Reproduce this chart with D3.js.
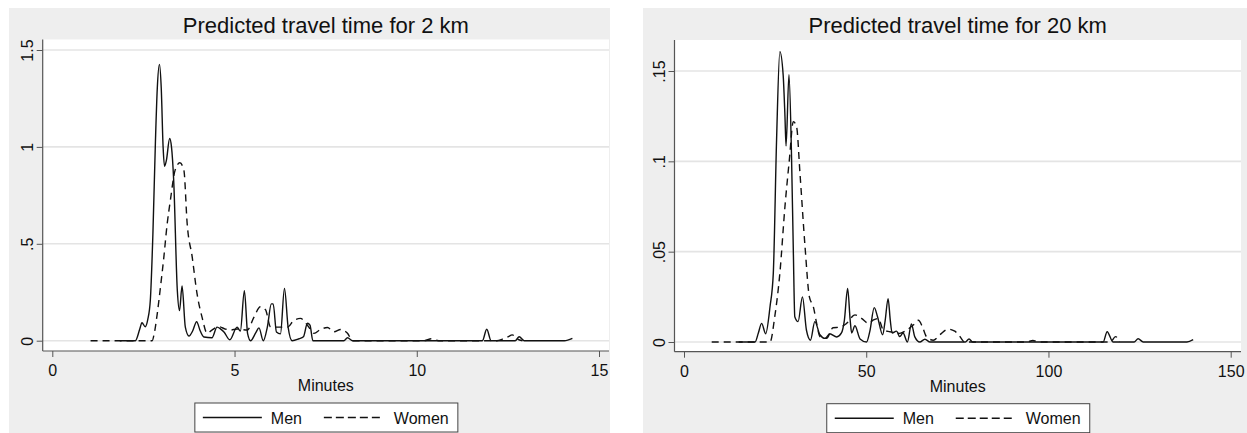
<!DOCTYPE html>
<html>
<head>
<meta charset="utf-8">
<script src="https://cdn.jsdelivr.net/npm/d3@7"></script>
<style>
  body { margin: 0; background: #ffffff; }
  svg { display: block; font-family: "Liberation Sans", Arial, sans-serif; }
</style>
</head>
<body>
<svg width="1247" height="433"></svg>
<script>
// kernel density of predicted minutes
var menMinutes2 = [1.85, 2.28, 2.40, 2.46, 2.55, 2.62, 2.69, 2.76, 2.83, 2.88, 2.94, 2.99, 3.04, 3.08, 3.13, 3.22, 3.27, 3.33, 3.43, 3.49, 3.56, 3.65, 3.75, 3.85, 3.96, 4.06, 4.16, 4.38, 4.52, 4.62, 4.71, 4.87, 5.07, 5.16, 5.27, 5.36, 5.44, 5.58, 5.67, 5.79, 5.90, 6.01, 6.06, 6.15, 6.26, 6.37, 6.47, 6.58, 6.77, 6.89, 7.00, 7.07, 7.15, 8.00, 8.10, 8.24, 11.80, 11.92, 12.04, 12.70, 12.81, 12.95, 14.05, 14.27];
var menDensity2 = [0, 0, 0.06, 0.093, 0.072, 0.11, 0.21, 0.55, 1.03, 1.30, 1.426, 1.30, 1.0, 0.9, 0.93, 1.043, 1.0, 0.83, 0.26, 0.155, 0.282, 0.07, 0.024, 0.05, 0.098, 0.05, 0.019, 0.015, 0.07, 0.06, 0.045, 0.005, 0.07, 0.05, 0.258, 0.035, 0, 0.04, 0.066, 0, 0.07, 0.19, 0.19, 0.045, 0.035, 0.27, 0.07, 0, 0.01, 0.02, 0.09, 0.08, 0, 0, 0.015, 0, 0, 0.059, 0, 0, 0.02, 0, 0, 0.012];

var womenMinutes2 = [1.05, 2.74, 2.80, 2.88, 2.97, 3.06, 3.15, 3.24, 3.37, 3.50, 3.61, 3.70, 3.84, 3.97, 4.11, 4.25, 4.38, 4.57, 4.75, 4.89, 5.07, 5.35, 5.53, 5.71, 5.85, 5.99, 6.17, 6.45, 6.63, 6.81, 7.00, 7.18, 7.36, 7.55, 7.73, 7.91, 8.10, 8.24, 10.20, 10.40, 10.60, 12.20, 12.35, 12.50, 12.62, 12.75, 12.90];
var womenDensity2 = [0, 0, 0.04, 0.14, 0.28, 0.43, 0.6, 0.725, 0.88, 0.918, 0.88, 0.605, 0.43, 0.244, 0.12, 0.038, 0.055, 0.072, 0.06, 0.055, 0.06, 0.055, 0.12, 0.175, 0.16, 0.07, 0.07, 0.07, 0.105, 0.115, 0.08, 0.038, 0.058, 0.068, 0.046, 0.058, 0.038, 0, 0, 0.01, 0, 0, 0.008, 0.02, 0.03, 0.01, 0];

var menMinutes20 = [15, 19.5, 20.4, 21.3, 22.4, 23.6, 24.5, 25.4, 26.3, 27.2, 27.7, 28.0, 28.8, 29.5, 30.0, 30.4, 31.3, 32.5, 33.6, 34.7, 35.9, 37.3, 38.7, 40.0, 41.9, 43.2, 44.0, 44.9, 45.6, 46.0, 46.9, 48.3, 50.1, 51.0, 52.2, 53.1, 54.5, 55.2, 56.0, 56.6, 57.1, 58.3, 59.2, 60.1, 61.3, 62.4, 63.3, 64.7, 66.1, 67.5, 77.2, 78.2, 79.2, 115, 116.1, 117.7, 123.5, 124.6, 126, 138, 139.7];
var menDensity20 = [0, 0, 0.005, 0.0103, 0.0046, 0.0195, 0.038, 0.112, 0.1607, 0.148, 0.125, 0.1085, 0.148, 0.103, 0.05, 0.014, 0.0113, 0.025, 0.0065, 0.001, 0.0113, 0.004, 0.002, 0.0046, 0.0028, 0.005, 0.012, 0.0297, 0.012, 0.005, 0.009, 0.0017, 0, 0.006, 0.019, 0.014, 0.004, 0.012, 0.024, 0.012, 0.005, 0.006, 0.003, 0.005, 0, 0.010, 0.003, 0, 0.0015, 0, 0, 0.0017, 0, 0, 0.0057, 0, 0, 0.0018, 0, 0, 0.0013];

var womenMinutes20 = [7.6, 23.6, 24.9, 26.3, 27.7, 28.9, 30.0, 30.9, 31.8, 33.2, 34.4, 35.5, 36.4, 37.3, 39.1, 40.9, 42.8, 44.6, 46.9, 48.7, 50.6, 52.0, 53.3, 54.7, 56.5, 59.2, 61.1, 62.9, 64.3, 65.4, 66.5, 68.4, 70.2, 72.5, 74.3, 75.7, 77.0, 94, 95.7, 97.5, 117, 118.4, 119.5];
var womenDensity20 = [0, 0, 0.014, 0.038, 0.075, 0.1007, 0.122, 0.119, 0.094, 0.053, 0.025, 0.0195, 0.0103, 0.003, 0.002, 0.0079, 0.0082, 0.0103, 0.015, 0.0131, 0.0103, 0.0122, 0.013, 0.0066, 0.0057, 0.0048, 0.0066, 0.0094, 0.012, 0.0085, 0.003, 0.001, 0.004, 0.0071, 0.006, 0.003, 0, 0, 0.0008, 0, 0, 0.003, 0];

var xTicks2 = [0, 5, 10, 15];
var yTicks2 = [0, 0.5, 1, 1.5];
var yLabels2 = ["0", ".5", "1", "1.5"];
var xTicks20 = [0, 50, 100, 150];
var yTicks20 = [0, 0.05, 0.1, 0.15];
var yLabels20 = ["0", ".05", ".1", ".15"];

var seriesNames = ["Men", "Women"];

var svg = d3.select("svg");
var ink = "#111111";

function pairs(xs, ys) {
    return xs.map(function(d, i) { return [d, ys[i]]; });
}

function drawPanel(p) {
    var g = svg.append("g");

    // grey graph region and white plot region
    g.append("rect")
        .attr("x", p.bgLeft).attr("y", 8)
        .attr("width", p.bgRight - p.bgLeft).attr("height", 425)
        .attr("fill", "#eeeeee");
    g.append("rect")
        .attr("x", p.left).attr("y", p.top)
        .attr("width", p.right - p.left).attr("height", p.bottom - p.top)
        .attr("fill", "#ffffff");

    var x = d3.scaleLinear().domain(p.xDomain).range(p.xRange);
    var y = d3.scaleLinear().domain(p.yDomain).range(p.yRange);

    // grid
    g.selectAll(".grid").data(p.yTicks).enter().append("line")
        .attr("class", "grid")
        .attr("x1", p.left).attr("x2", p.right)
        .attr("y1", function(d) { return y(d); })
        .attr("y2", function(d) { return y(d); })
        .attr("stroke", "#e4e4e4")
        .attr("stroke-width", 1.6);

    // x axis
    var xAxis = g.append("g")
        .attr("transform", "translate(0," + p.bottom + ")")
        .call(d3.axisBottom(x).tickValues(p.xTicks).tickSize(6).tickPadding(8).tickFormat(d3.format("d")));
    xAxis.select(".domain").remove();
    xAxis.selectAll("line").attr("stroke", "#555");
    xAxis.selectAll("text")
        .attr("fill", ink)
        .style("font-size", "16px")
        .style("font-family", "Liberation Sans, Arial, sans-serif");

    // y axis, labels turned like Stata does
    var yAxis = g.append("g")
        .attr("transform", "translate(" + p.left + ",0)")
        .call(d3.axisLeft(y).tickValues(p.yTicks).tickSize(6)
            .tickFormat(function(d, i) { return p.yLabels[i]; }));
    yAxis.select(".domain").remove();
    yAxis.selectAll("line").attr("stroke", "#555");
    yAxis.selectAll("text")
        .attr("transform", "rotate(-90)")
        .attr("x", 0)
        .attr("y", -10)
        .attr("dy", 0)
        .style("text-anchor", "middle")
        .attr("fill", ink)
        .style("font-size", "16px")
        .style("font-family", "Liberation Sans, Arial, sans-serif");

    g.append("line")
        .attr("x1", p.left).attr("x2", p.left)
        .attr("y1", p.top).attr("y2", p.bottom)
        .attr("stroke", "#555").attr("stroke-width", 1.2);
    g.append("line")
        .attr("x1", p.left).attr("x2", p.right)
        .attr("y1", p.bottom).attr("y2", p.bottom)
        .attr("stroke", "#555").attr("stroke-width", 1.2);

    var line = d3.line()
        .x(function(d) { return x(d[0]); })
        .y(function(d) { return y(d[1]); })
        .curve(d3.curveMonotoneX);

    g.append("path")
        .datum(pairs(p.womenX, p.womenY))
        .attr("d", line)
        .attr("fill", "none")
        .attr("stroke", ink)
        .attr("stroke-width", 1.4)
        .attr("stroke-dasharray", "7,5");

    g.append("path")
        .datum(pairs(p.menX, p.menY))
        .attr("d", line)
        .attr("fill", "none")
        .attr("stroke", ink)
        .attr("stroke-width", 1.4);

    var mid = (p.left + p.right) / 2;

    g.append("text")
        .attr("x", mid).attr("y", 33)
        .attr("text-anchor", "middle")
        .attr("fill", ink)
        .style("font-size", "22px")
        .text(p.title);

    g.append("text")
        .attr("x", mid).attr("y", p.bottom + 40)
        .attr("text-anchor", "middle")
        .attr("fill", ink)
        .style("font-size", "16px")
        .text("Minutes");

    // legend
    var lx = mid - 131, ly = p.bottom + 52;
    g.append("rect")
        .attr("x", lx).attr("y", ly)
        .attr("width", 263).attr("height", 29)
        .attr("fill", "#ffffff")
        .attr("stroke", "#444")
        .attr("stroke-width", 1);

    var items = g.selectAll(".key").data(seriesNames).enter().append("g")
        .attr("class", "key")
        .attr("transform", function(d, i) {
            return "translate(" + (lx + 8 + i * 121) + "," + (ly + 14.5) + ")";
        });
    items.append("line")
        .attr("x1", 0).attr("x2", 59)
        .attr("y1", 0).attr("y2", 0)
        .attr("stroke", ink)
        .attr("stroke-width", 1.4)
        .attr("stroke-dasharray", function(d, i) { return i ? "8,4" : null; });
    items.append("text")
        .attr("x", function(d, i) { return i ? 70 : 68; })
        .attr("y", 6)
        .attr("fill", ink)
        .style("font-size", "16px")
        .text(function(d) { return d; });
}

drawPanel({
    title: "Predicted travel time for 2 km",
    bgLeft: 9, bgRight: 610,
    left: 42.7, right: 609, top: 39.5, bottom: 351,
    xDomain: [0, 15], xRange: [52.3, 599],
    yDomain: [0, 1.5], yRange: [340.7, 50],
    xTicks: xTicks2, yTicks: yTicks2, yLabels: yLabels2,
    menX: menMinutes2, menY: menDensity2,
    womenX: womenMinutes2, womenY: womenDensity2
});

drawPanel({
    title: "Predicted travel time for 20 km",
    bgLeft: 643, bgRight: 1247,
    left: 674.5, right: 1241, top: 40, bottom: 351.7,
    xDomain: [0, 150], xRange: [684, 1230.7],
    yDomain: [0, 0.15], yRange: [342, 71],
    xTicks: xTicks20, yTicks: yTicks20, yLabels: yLabels20,
    menX: menMinutes20, menY: menDensity20,
    womenX: womenMinutes20, womenY: womenDensity20
});
</script>
</body>
</html>
